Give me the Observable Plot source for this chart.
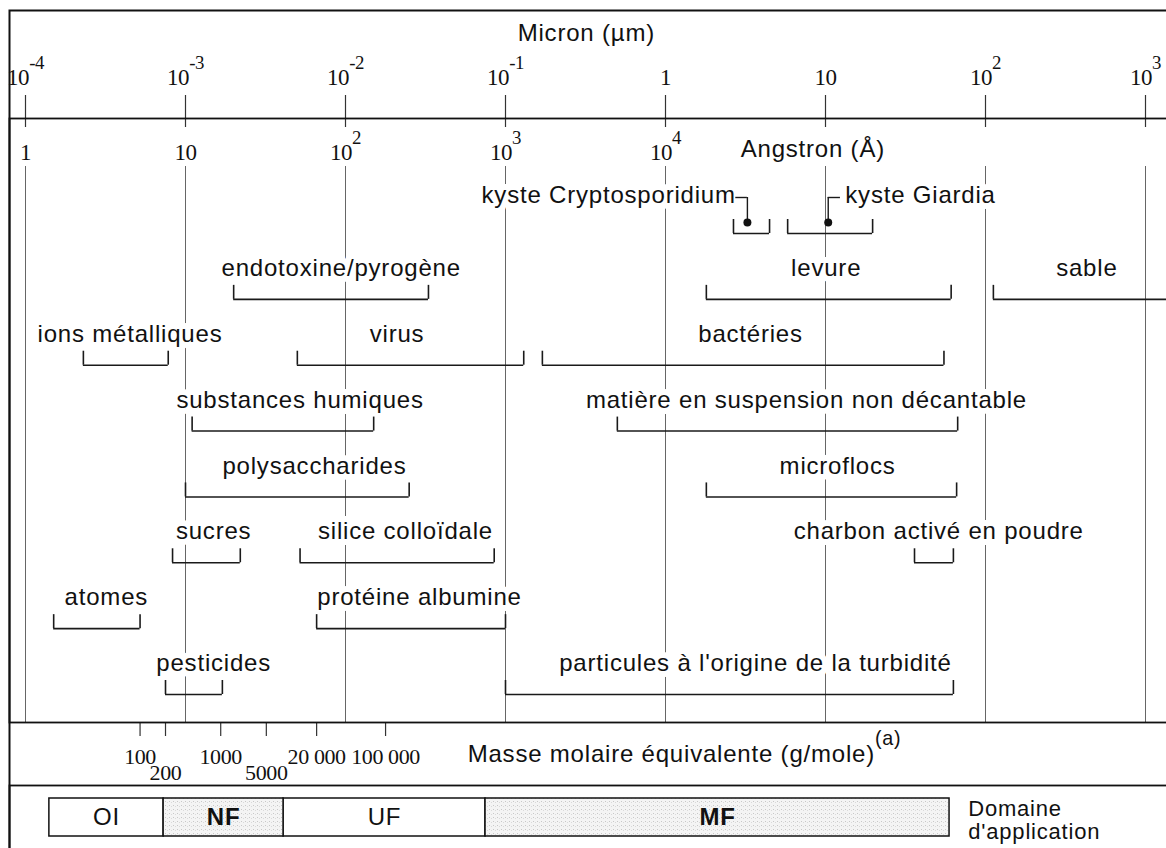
<!DOCTYPE html>
<html><head><meta charset="utf-8">
<script src="https://cdn.jsdelivr.net/npm/d3@7"></script>
<script src="https://cdn.jsdelivr.net/npm/@observablehq/plot@0.6"></script>
<style>
body{margin:0;background:#fff;}
#chart svg text{letter-spacing:0.8px;}
#chart g[font-family*="Serif"] text{letter-spacing:-0.4px;}
</style>
</head><body><div id="chart"></div>
<script>
// ---- scales / ticks ----
const decades = [1e-4, 1e-3, 1e-2, 1e-1, 1, 10, 100, 1000];
const micronTickLabels = ["10^-4", "10^-3", "10^-2", "10^-1", "1", "10", "10^2", "10^3"];
const angstromTickLabels = ["1", "10", "10^2", "10^3", "10^4"];
const micronTitle = "Micron (µm)";
const micronTitleAt = 0.32;
const angstromTitle = "Angstron (Å)";
const angstromTitleAt = 2.95;

// ---- size ranges (µm) ----
const itemLabels = ["endotoxine/pyrogène", "levure", "sable", "ions métalliques", "virus", "bactéries",
  "substances humiques", "matière en suspension non décantable", "polysaccharides", "microflocs",
  "sucres", "silice colloïdale", "charbon activé en poudre", "atomes", "protéine albumine",
  "pesticides", "particules à l'origine de la turbidité"];
const itemRow = [1, 1, 1, 2, 2, 2, 3, 3, 4, 4, 5, 5, 5, 6, 6, 7, 7];
const itemMin = [0.002, 1.8, 112, 0.00023, 0.005, 0.17, 0.0011, 0.5, 0.001, 1.8, 0.00083, 0.0052, 36, 0.00015, 0.0066, 0.00075, 0.1];
const itemMax = [0.033, 61, 1500, 0.00078, 0.13, 55, 0.015, 67, 0.025, 66, 0.0022, 0.085, 63, 0.00052, 0.1, 0.0017, 63];
const itemLabelAt = [0.0094, 10.1, 430, 0.00045, 0.021, 3.4, 0.0052, 7.6, 0.0064, 11.9, 0.0015, 0.0237, 51, 0.00032, 0.029, 0.0015, 3.65];

// cysts (row 0, with a callout dot)
const cystLabels = ["kyste Cryptosporidium", "kyste Giardia"];
const cystMin = [2.66, 5.8];
const cystMax = [4.47, 19.7];
const cystDot = [3.25, 10.4];
const cystLeaderEnd = [2.75, 12.4];
const cystTextAt = [2.75, 13.3];

// ---- molar mass equivalents ----
const molarLabels = ["100", "200", "1000", "5000", "20 000", "100 000"];
const molarMicron = [5.2e-4, 7.5e-4, 1.66e-3, 3.2e-3, 6.6e-3, 0.0178];
const molarLower = ["200", "5000"];
const molarTitle = "Masse molaire équivalente (g/mole)^(a)";
const molarTitleAt = 0.058;

// ---- application domains ----
const domainNames = ["OI", "NF", "UF", "MF"];
const domainMin = [1.41e-4, 7.3e-4, 4.1e-3, 0.075];
const domainMax = [7.3e-4, 4.1e-3, 0.075, 59.6];
const domainTitle = "Domaine\nd'application";
const domainTitleAt = 78;

// ---- tables ----
const items = itemLabels.map((label, i) => ({label, row: itemRow[i], lo: itemMin[i], hi: itemMax[i], at: itemLabelAt[i]}));
const cysts = cystLabels.map((label, i) => ({label, row: 0, lo: cystMin[i], hi: cystMax[i], dot: cystDot[i], lead: cystLeaderEnd[i], at: cystTextAt[i]}));
const brackets = [...cysts, ...items];
const molar = molarLabels.map((label, i) => ({label, v: molarMicron[i], lower: molarLower.includes(label)}));
const domains = domainNames.map((name, i) => ({name, lo: domainMin[i], hi: domainMax[i], mid: Math.sqrt(domainMin[i] * domainMax[i]), shaded: i % 2 === 1}));

const ink = "#111";
const serif = "Liberation Serif";
const halo = {stroke: "white", strokeWidth: 12, strokeLinejoin: "round", paintOrder: "stroke", fill: ink};
const mid = {lineAnchor: "middle", fill: ink};

const svg = Plot.plot({
  width: 1166, height: 848,
  marginTop: 118, marginBottom: 126, marginLeft: 9, marginRight: 0,
  x: {type: "log", domain: [1e-4, 1e3], range: [25, 1145], axis: null},
  y: {domain: [0, 7], range: [233, 694], axis: null},
  style: {fontFamily: "Liberation Sans", fontSize: "24px", color: ink, background: "white"},
  marks: [
    // decade grid lines
    Plot.ruleX(decades, {x: d => d, insetTop: 48, stroke: "#666", strokeWidth: 1}),
    // top axis ticks
    Plot.ruleX(decades, {x: d => d, insetTop: -23, insetBottom: 595, stroke: "#333", strokeWidth: 1.2}),
    // molar mass ticks
    Plot.ruleX(molar, {x: "v", insetTop: 604, insetBottom: -14, stroke: "#333", strokeWidth: 1.2}),
    // domain boxes
    Plot.rect(domains.filter(d => !d.shaded), {x1: "lo", x2: "hi", insetTop: 680, insetBottom: -114, fill: "white", stroke: ink, strokeWidth: 1.5}),
    Plot.rect(domains.filter(d => d.shaded), {x1: "lo", x2: "hi", insetTop: 680, insetBottom: -114, fill: "url(#stipple)", stroke: ink, strokeWidth: 1.5}),
    // frame lines
    Plot.frame({stroke: ink, strokeWidth: 2, insetTop: -108, insetBottom: -140, insetRight: -6}),
    Plot.frame({stroke: ink, strokeWidth: 1.8, insetRight: -6}),
    Plot.frame({stroke: ink, strokeWidth: 1.8, insetTop: 667, insetBottom: -140, insetRight: -6}),
    // micron axis labels
    Plot.text(decades, {x: d => d, text: (d, i) => micronTickLabels[i], frameAnchor: "top", dy: -41, fontFamily: serif, fontSize: 23, ...mid}),
    Plot.text([micronTitle], {x: () => micronTitleAt, text: d => d, frameAnchor: "top", dy: -85, ...mid}),
    // angstrom labels
    Plot.text(decades.slice(0, 5), {x: d => d, text: (d, i) => angstromTickLabels[i], frameAnchor: "top", dy: 34, fontFamily: serif, fontSize: 23, ...mid}),
    Plot.text([angstromTitle], {x: () => angstromTitleAt, text: d => d, frameAnchor: "top", dy: 31, textAnchor: "start", ...mid}),
    // range labels
    Plot.text(items, {x: "at", y: "row", text: "label", dy: -31, ...halo}),
    Plot.text(cysts.slice(0, 1), {x: "at", y: "row", text: "label", dy: -38, textAnchor: "end", ...halo}),
    Plot.text(cysts.slice(1), {x: "at", y: "row", text: "label", dy: -38, textAnchor: "start", ...halo}),
    // brackets
    Plot.ruleY(brackets, {x1: "lo", x2: "hi", y: "row", stroke: "#1a1a1a", strokeWidth: 1.6}),
    Plot.ruleX(brackets, {x: "lo", y1: "row", y2: "row", insetTop: -14, stroke: "#1a1a1a", strokeWidth: 1.6}),
    Plot.ruleX(brackets, {x: "hi", y1: "row", y2: "row", insetTop: -14, stroke: "#1a1a1a", strokeWidth: 1.6}),
    // cyst callouts
    Plot.ruleY(cysts, {x1: "dot", x2: "lead", y: "row", dy: -36, stroke: "#1a1a1a", strokeWidth: 1.4}),
    Plot.ruleX(cysts, {x: "dot", y1: "row", y2: "row", insetTop: -36, insetBottom: 11, stroke: "#1a1a1a", strokeWidth: 1.4}),
    Plot.dot(cysts, {x: "dot", y: "row", dy: -11, r: 4, fill: ink, stroke: "none"}),
    // molar mass labels
    Plot.text(molar.filter(d => !d.lower), {x: "v", text: "label", frameAnchor: "bottom", dy: 34, fontFamily: serif, fontSize: 22, ...mid}),
    Plot.text(molar.filter(d => d.lower), {x: "v", text: "label", frameAnchor: "bottom", dy: 50, fontFamily: serif, fontSize: 22, ...mid}),
    Plot.text([molarTitle], {x: () => molarTitleAt, text: d => d, frameAnchor: "bottom", dy: 32, textAnchor: "start", ...mid}),
    // domain labels
    Plot.text(domains.filter(d => !d.shaded), {x: "mid", text: "name", frameAnchor: "bottom", dy: 95, ...mid}),
    Plot.text(domains.filter(d => d.shaded), {x: "mid", text: "name", frameAnchor: "bottom", dy: 95, fontWeight: "bold", ...mid}),
    Plot.text([domainTitle], {x: () => domainTitleAt, text: d => d, frameAnchor: "bottom", dy: 98, textAnchor: "start", fontSize: 22, lineHeight: 1.05, ...mid})
  ]
});

// stipple pattern for shaded domains
const defs = d3.select(svg).insert("defs", ":first-child");
const pat = defs.append("pattern").attr("id", "stipple").attr("width", 4).attr("height", 4).attr("patternUnits", "userSpaceOnUse");
pat.append("rect").attr("width", 4).attr("height", 4).attr("fill", "#f4f4f4");
pat.append("rect").attr("x", 1).attr("y", 1).attr("width", 1).attr("height", 1).attr("fill", "#c8c8c8");
pat.append("rect").attr("x", 3).attr("y", 2).attr("width", 1).attr("height", 1).attr("fill", "#dadada");

// superscripts written as "base^sup"
d3.select(svg).selectAll("text, tspan").each(function () {
  if (this.childElementCount) return;
  const s = this.textContent;
  const k = s.indexOf("^");
  if (k < 0) return;
  this.textContent = s.slice(0, k);
  d3.select(this).append("tspan").attr("font-size", "0.82em").attr("dy", "-0.85em").text(s.slice(k + 1));
});

document.getElementById("chart").append(svg);
</script>
</body></html>
